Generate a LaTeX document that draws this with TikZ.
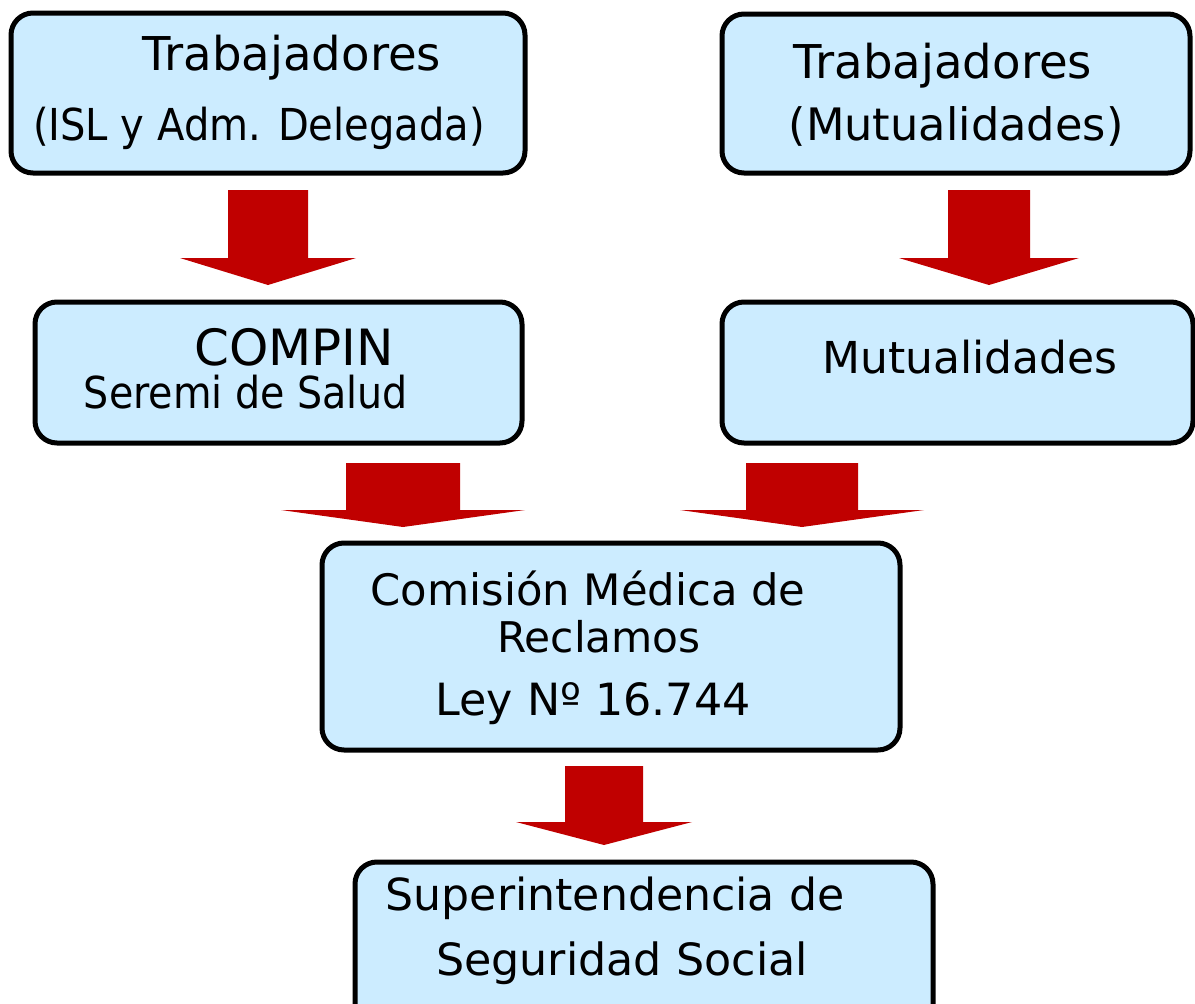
\documentclass[tikz,border=0pt]{standalone}
\usepackage{fontspec}
\usepackage{graphicx}
\setmainfont{DejaVu Sans}
\definecolor{boxfill}{HTML}{CCECFF}
\definecolor{arrowred}{HTML}{C00000}
\begin{document}
\begin{tikzpicture}[x=1pt,y=-1pt,
  box/.style={draw=black,line width=5pt,fill=boxfill,rounded corners=22pt},
  txt/.style={anchor=base,inner sep=0pt},
  fs/.style={font=\fontsize{#1}{#1}\selectfont},
  blockarrow/.style={fill=arrowred,draw=none}]
\useasboundingbox (0,0) rectangle (1195,1004);
\newcommand{\blockarr}[7]{% name, xc, shaft half, head half, ytop, yhead, ytip
  \fill[blockarrow] (#2-#3,#5) -- (#2+#3,#5) -- (#2+#3,#6) -- (#2+#4,#6) -- (#2,#7) -- (#2-#4,#6) -- (#2-#3,#6) -- cycle;
  \coordinate (#1) at (#2,#7);}
% boxes
\draw[box] (11,13) rectangle (525,173);
\node[inner sep=0pt] (b1) at (268,93) {};
\draw[box] (722,14) rectangle (1190,173);
\node[inner sep=0pt] (b2) at (956,93) {};
\draw[box] (35,302) rectangle (522,443);
\node[inner sep=0pt] (b3) at (278,372) {};
\draw[box] (722,302) rectangle (1193,443);
\node[inner sep=0pt] (b4) at (958,372) {};
\draw[box] (322,543) rectangle (900,750);
\node[inner sep=0pt] (b5) at (611,646) {};
\draw[box] (355,862) rectangle (933,1030);
\node[inner sep=0pt] (b6) at (644,940) {};
% arrows
\blockarr{a1}{268}{40}{88}{190}{258}{285}
\blockarr{a2}{989}{41}{90}{190}{258}{285}
\blockarr{a3}{403}{57}{122}{463}{510}{527}
\blockarr{a4}{802}{56}{122}{463}{510}{527}
\blockarr{a5}{604}{39}{88}{766}{822}{845}
% texts
\node[txt,fs=46.6] (t1a) at (292,70) {Trabajadores};
\node[txt,fs=44] (t1b) at (259,140) {\scalebox{0.91}[1]{(ISL y Adm. Delegada)}};
\node[txt,fs=46.6] (t2a) at (943,78) {Trabajadores};
\node[txt,fs=44.7] (t2b) at (956,140) {(Mutualidades)};
\node[txt,fs=50] (t3a) at (294,365) {COMPIN};
\node[txt,fs=44] (t3b) at (246,408) {\scalebox{0.9}[1]{Seremi de Salud}};
\node[txt,fs=44] (t4a) at (970,373) {Mutualidades};
\node[txt,fs=43.3] (t5a) at (588,605) {Comisión Médica de};
\node[txt,fs=42.3] (t5b) at (599,652) {Reclamos};
\node[txt,fs=44.4] (t5c) at (593,715) {Ley Nº 16.744};
\node[txt,fs=44.2] (t6a) at (615,910) {Superintendencia de};
\node[txt,fs=44.4] (t6b) at (622,975) {Seguridad Social};
\end{tikzpicture}
\end{document}
